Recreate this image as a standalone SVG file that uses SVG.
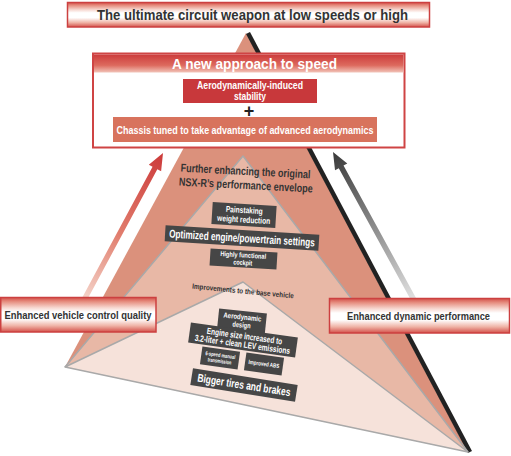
<svg xmlns="http://www.w3.org/2000/svg" width="511" height="456" viewBox="0 0 511 456">
<defs>
<linearGradient id="tube" x1="0" y1="0" x2="0" y2="1">
<stop offset="0" stop-color="#d4514a"/>
<stop offset="0.12" stop-color="#e68e80"/>
<stop offset="0.3" stop-color="#f7d9d2"/>
<stop offset="0.42" stop-color="#ffffff"/>
<stop offset="0.62" stop-color="#ffffff"/>
<stop offset="0.82" stop-color="#efb3a6"/>
<stop offset="1" stop-color="#d4514a"/>
</linearGradient>
<linearGradient id="head" x1="0" y1="0" x2="0" y2="1">
<stop offset="0" stop-color="#cc3b3b"/>
<stop offset="0.6" stop-color="#dd6a5e"/>
<stop offset="1" stop-color="#f2c4b9"/>
</linearGradient>
<linearGradient id="redArrow" gradientUnits="userSpaceOnUse" x1="83" y1="300" x2="163" y2="153">
<stop offset="0" stop-color="#f5d6cc"/>
<stop offset="0.45" stop-color="#e17d6d"/>
<stop offset="1" stop-color="#cc3a3a"/>
</linearGradient>
<linearGradient id="grayArrow" gradientUnits="userSpaceOnUse" x1="414" y1="300" x2="333" y2="152">
<stop offset="0" stop-color="#e2e2e2"/>
<stop offset="0.5" stop-color="#8a8a8a"/>
<stop offset="1" stop-color="#3a3a3a"/>
</linearGradient>
</defs>
<style>
text{font-family:"Liberation Sans",Arial,sans-serif;font-weight:bold;text-anchor:middle}
.dark{fill:#333333}
.wt{fill:#ffffff}
.tube{fill:url(#tube);stroke:#cc4040;stroke-width:1.5}
.dbox{fill:#464646}
.edge{fill:none;stroke:#a9a9a9;stroke-width:1.5;stroke-linejoin:round}
</style>
<rect width="511" height="456" fill="#ffffff"/>

<g id="pyramid">
<polygon points="246,33 468,452 65,367" fill="#db917c"/>
<line x1="248" y1="33" x2="470" y2="452" stroke="#222222" stroke-width="4.5"/>
<polygon id="layer-middle" points="243,156 468,452 65,367" fill="#e8b8a6"/>
<polyline class="edge" points="65,367 243,156 468,452"/>
<polygon id="layer-base" points="243,282 468,452 65,367" fill="#f6e2da" stroke="#a9a9a9" stroke-width="1.5" stroke-linejoin="round"/>
</g>

<g id="connectors">
<polygon id="arrow-left" fill="url(#redArrow)" points="163,153 161.12,171.28 157.33,169.25 84.88,303.98 80.12,301.42 152.57,166.69 148.78,164.66"/>
<polygon id="arrow-right" fill="url(#grayArrow)" points="333,152 347.30,163.55 343.53,165.61 416.97,299.80 412.23,302.40 338.79,168.21 335.02,170.27"/>
</g>

<g id="title">
<rect class="tube" x="67.5" y="2.5" width="362" height="24.5"/>
<text class="dark" x="252.5" y="20" font-size="14" textLength="311" lengthAdjust="spacingAndGlyphs">The ultimate circuit weapon at low speeds or high</text>
</g>

<g id="approach">
<rect x="93" y="53.5" width="311.5" height="94" fill="#ffffff" stroke="#cf4444" stroke-width="2"/>
<rect x="94" y="54.5" width="309.5" height="18" fill="url(#head)"/>
<text class="wt" x="254.5" y="68.5" font-size="14" textLength="165" lengthAdjust="spacingAndGlyphs">A new approach to speed</text>
</g>

<g id="aero-stability">
<rect x="183" y="79" width="134" height="24" fill="#c8383b"/>
<text class="wt" x="250" y="88.5" font-size="10" textLength="106" lengthAdjust="spacingAndGlyphs">Aerodynamically-induced</text>
<text class="wt" x="250" y="100" font-size="10" textLength="32" lengthAdjust="spacingAndGlyphs">stability</text>
</g>
<text id="plus" x="249" y="116.5" font-size="18" fill="#222222">+</text>

<g id="chassis">
<rect x="113" y="117" width="264" height="25" fill="#d8735d"/>
<text class="wt" x="245" y="133.5" font-size="10.5" textLength="257" lengthAdjust="spacingAndGlyphs">Chassis tuned to take advantage of advanced aerodynamics</text>
</g>

<g id="further-label" transform="rotate(3 245 181)">
<text class="dark" x="245" y="175" font-size="11.5" textLength="130" lengthAdjust="spacingAndGlyphs">Further enhancing the original</text>
<text class="dark" x="246" y="189" font-size="11.5" textLength="134" lengthAdjust="spacingAndGlyphs">NSX-R’s performance envelope</text>
</g>

<g id="painstaking" transform="rotate(3.5 244 215)">
<rect class="dbox" x="212" y="204" width="64" height="22"/>
<text class="wt" x="244" y="213" font-size="8.5" textLength="37" lengthAdjust="spacingAndGlyphs">Painstaking</text>
<text class="wt" x="244" y="222.5" font-size="8.5" textLength="53" lengthAdjust="spacingAndGlyphs">weight reduction</text>
</g>

<g id="optimized" transform="rotate(3.5 242 238)">
<rect class="dbox" x="165" y="230" width="154" height="16"/>
<text class="wt" x="242" y="242" font-size="11.5" textLength="146" lengthAdjust="spacingAndGlyphs">Optimized engine/powertrain settings</text>
</g>

<g id="cockpit" transform="rotate(3.5 243 259)">
<rect class="dbox" x="210" y="250.5" width="67" height="17"/>
<text class="wt" x="243" y="257.5" font-size="7" textLength="46" lengthAdjust="spacingAndGlyphs">Highly functional</text>
<text class="wt" x="243" y="265" font-size="7" textLength="19" lengthAdjust="spacingAndGlyphs">cockpit</text>
</g>

<g id="improvements-label" transform="rotate(5.5 243 291)">
<text class="dark" x="243" y="293.5" font-size="7.5" textLength="102" lengthAdjust="spacingAndGlyphs">Improvements to the base vehicle</text>
</g>

<g id="aero-design" transform="rotate(6 242 321)">
<rect class="dbox" x="218" y="311" width="48" height="20"/>
<text class="wt" x="242" y="319.5" font-size="7.5" textLength="38" lengthAdjust="spacingAndGlyphs">Aerodynamic</text>
<text class="wt" x="242" y="327.5" font-size="7.5" textLength="18" lengthAdjust="spacingAndGlyphs">design</text>
</g>

<g id="engine" transform="rotate(8 243 340)">
<rect class="dbox" x="189" y="330" width="108" height="20"/>
<text class="wt" x="244" y="339" font-size="9" textLength="76" lengthAdjust="spacingAndGlyphs">Engine size increased to</text>
<text class="wt" x="243" y="347.5" font-size="9" textLength="96" lengthAdjust="spacingAndGlyphs">3.2-liter + clean LEV emissions</text>
</g>

<g id="transmission" transform="rotate(8 220 358)">
<rect class="dbox" x="201" y="349" width="38" height="18"/>
<text class="wt" x="220" y="357" font-size="5.5" textLength="30" lengthAdjust="spacingAndGlyphs">6-speed manual</text>
<text class="wt" x="220" y="363" font-size="5.5" textLength="24" lengthAdjust="spacingAndGlyphs">transmission</text>
</g>

<g id="abs" transform="rotate(8 264 364)">
<rect class="dbox" x="245" y="355" width="38" height="18"/>
<text class="wt" x="264" y="366" font-size="6" textLength="31" lengthAdjust="spacingAndGlyphs">Improved ABS</text>
</g>

<g id="bigger" transform="rotate(9 244 385)">
<rect class="dbox" x="191" y="376.5" width="106" height="17"/>
<text class="wt" x="244" y="389" font-size="11.5" textLength="94" lengthAdjust="spacingAndGlyphs">Bigger tires and brakes</text>
</g>

<g id="control-quality">
<rect class="tube" x="0.75" y="297.5" width="155.25" height="34.5"/>
<text class="dark" x="78" y="318.5" font-size="11" textLength="147" lengthAdjust="spacingAndGlyphs">Enhanced vehicle control quality</text>
</g>

<g id="dynamic-performance">
<rect class="tube" x="329.5" y="298.5" width="180" height="34.5"/>
<text class="dark" x="418.5" y="319.5" font-size="11" textLength="143" lengthAdjust="spacingAndGlyphs">Enhanced dynamic performance</text>
</g>
</svg>
